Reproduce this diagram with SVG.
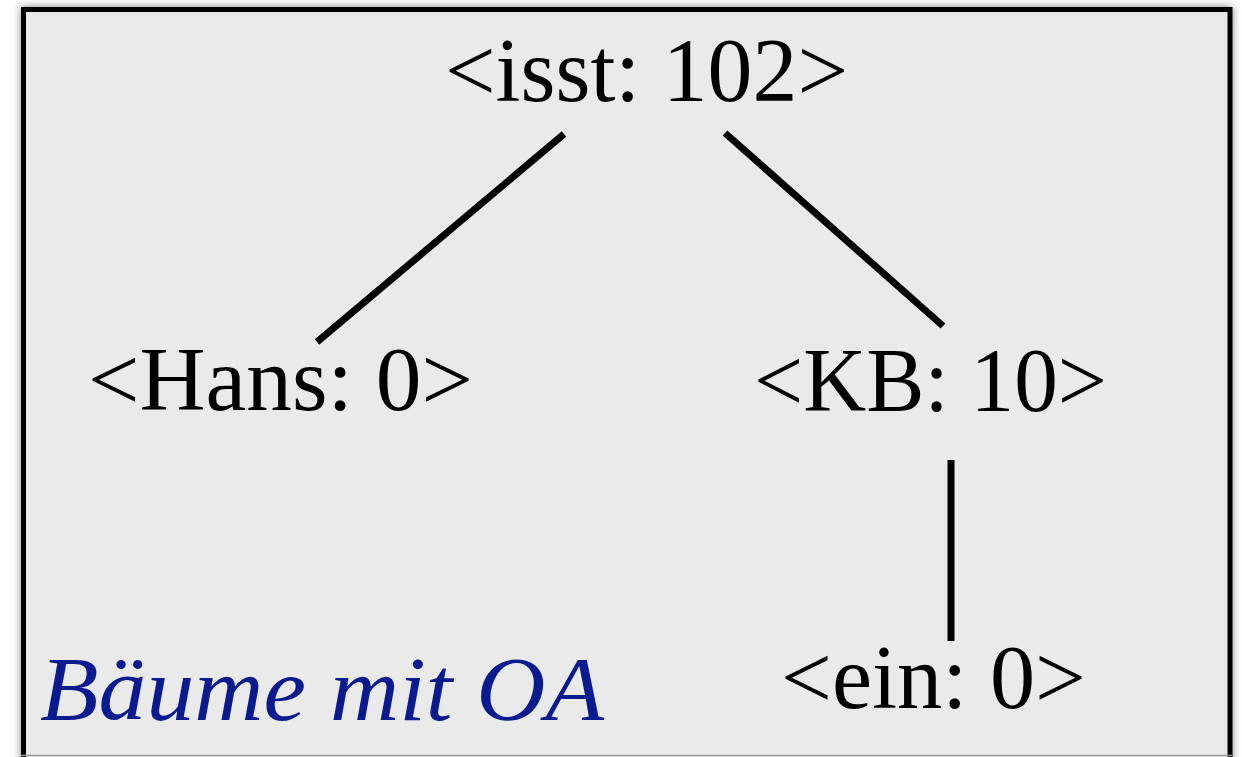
<svg xmlns="http://www.w3.org/2000/svg" width="1242" height="757" viewBox="0 0 1242 757">
  <defs>
    <filter id="shadow" x="-5%" y="-5%" width="110%" height="110%">
      <feGaussianBlur in="SourceAlpha" stdDeviation="4"/>
      <feOffset dx="0" dy="0" result="b"/>
      <feComponentTransfer><feFuncA type="linear" slope="0.5"/></feComponentTransfer>
      <feMerge><feMergeNode/><feMergeNode in="SourceGraphic"/></feMerge>
    </filter>
  </defs>
  <style>
    .node { font-family: "Liberation Serif", "Times New Roman", serif; font-size: 90px; fill: #000; text-anchor: middle; }
    .title { font-family: "Liberation Serif", "Times New Roman", serif; font-size: 92px; font-style: italic; fill: #0a1a8f; }
    .edge { stroke: #000; stroke-width: 7; stroke-linecap: butt; fill: none; }
  </style>
  <rect width="1242" height="757" fill="#ffffff"/>
  <g id="frame">
    <rect x="23.5" y="9.5" width="1206.5" height="780" fill="#eaeaea" stroke="#000" stroke-width="5" filter="url(#shadow)"/>
    <line x1="21" y1="755.5" x2="1232" y2="755.5" stroke="#9a9a9a" stroke-width="1.5"/>
  </g>
  <g id="connectors">
    <line class="edge" x1="564" y1="134" x2="317" y2="342"/>
    <line class="edge" x1="725" y1="133" x2="943" y2="326"/>
    <line class="edge" x1="951" y1="460" x2="951" y2="641" stroke-width="8"/>
  </g>
  <g id="node-isst">
    <text class="node" x="646.5" y="101" textLength="403" lengthAdjust="spacingAndGlyphs">&lt;isst: 102&gt;</text>
  </g>
  <g id="node-hans">
    <text class="node" x="280.5" y="410" textLength="385" lengthAdjust="spacingAndGlyphs">&lt;Hans: 0&gt;</text>
  </g>
  <g id="node-kb">
    <text class="node" x="930.5" y="411" textLength="353" lengthAdjust="spacingAndGlyphs">&lt;KB: 10&gt;</text>
  </g>
  <g id="node-ein">
    <text class="node" x="933.5" y="708" textLength="305" lengthAdjust="spacingAndGlyphs">&lt;ein: 0&gt;</text>
  </g>
  <g id="label">
    <text class="title" x="40" y="720" textLength="564" lengthAdjust="spacingAndGlyphs">Bäume mit OA</text>
  </g>
</svg>
